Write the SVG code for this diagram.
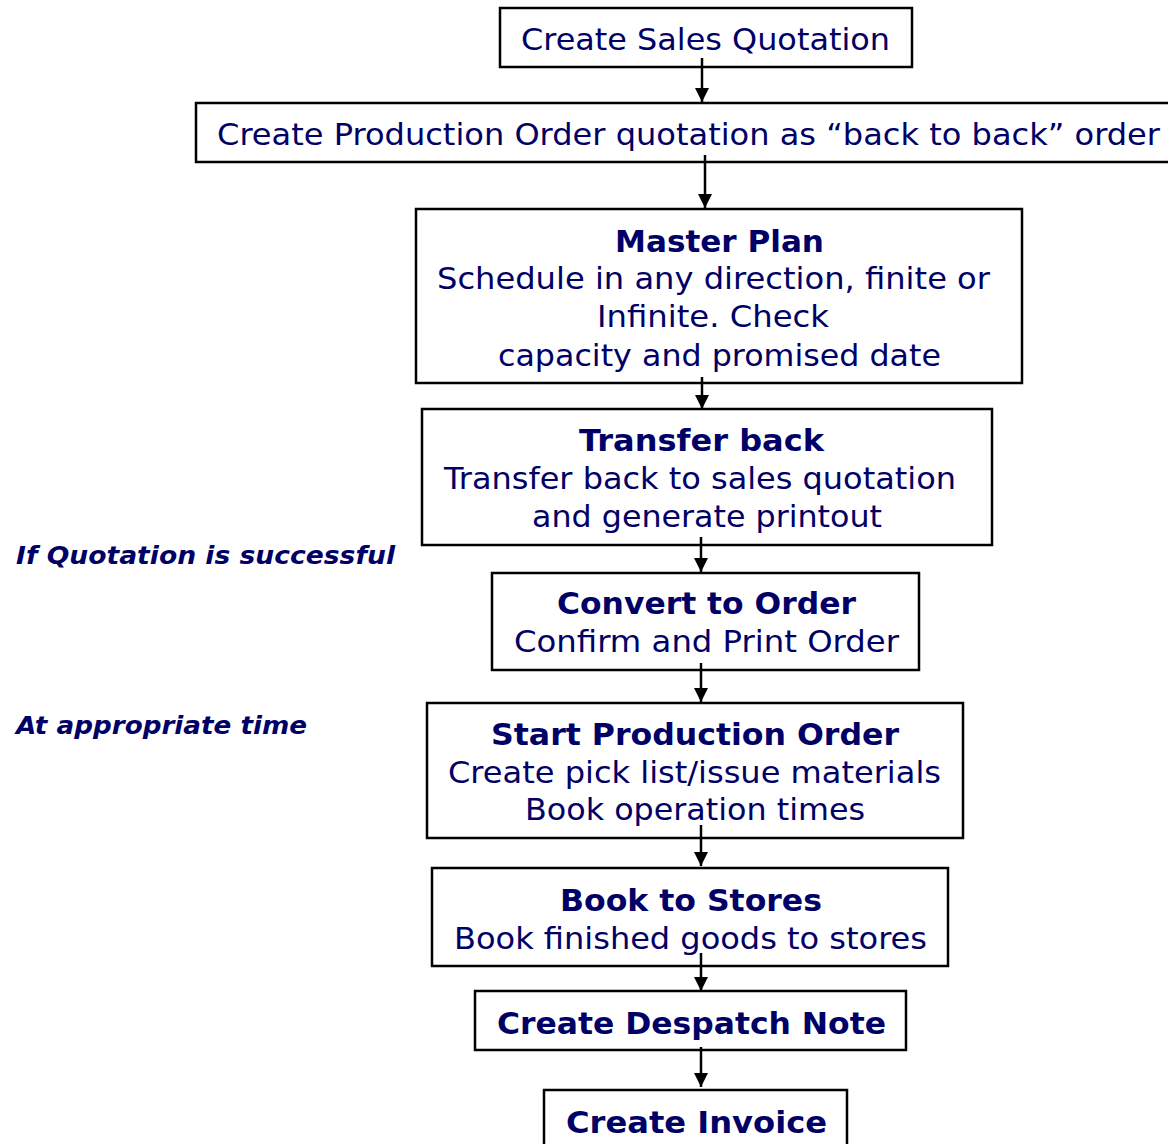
<svg xmlns="http://www.w3.org/2000/svg" width="1168" height="1144" viewBox="0 0 1168 1144">
<defs>
<marker id="ah" markerWidth="14" markerHeight="14" viewBox="0 0 14 14" refX="14" refY="7" orient="auto" markerUnits="userSpaceOnUse">
<path d="M0,0 L14,7 L0,14 Z" fill="#000"/>
</marker>
<style>
.box{fill:#fff;stroke:#000;stroke-width:2.5}
.t{font-family:"DejaVu Sans","Verdana",sans-serif;font-size:30px;fill:#000066;text-anchor:middle}
.b{font-weight:bold}
.lbl{font-family:"DejaVu Sans","Verdana",sans-serif;font-size:24px;font-weight:bold;font-style:italic;fill:#000066}
.c{stroke:#000;stroke-width:2.5;fill:none;marker-end:url(#ah)}
</style>
</defs>
<rect width="1168" height="1144" fill="#fff"/>
<g id="n1"><rect class="box" x="500" y="8" width="412" height="59"/><text class="t" x="705.5" y="50" textLength="369" lengthAdjust="spacingAndGlyphs">Create Sales Quotation</text></g>
<g id="n2"><rect class="box" x="196" y="103" width="980" height="59"/><text class="t" x="688.5" y="145" textLength="943" lengthAdjust="spacingAndGlyphs">Create Production Order quotation as “back to back” order</text></g>
<g id="n3"><rect class="box" x="416" y="209" width="606" height="174"/>
<text class="t b" x="719.5" y="252" textLength="209" lengthAdjust="spacingAndGlyphs">Master Plan</text>
<text class="t" x="713.5" y="289" textLength="553" lengthAdjust="spacingAndGlyphs">Schedule in any direction, finite or</text>
<text class="t" x="713" y="327" textLength="232" lengthAdjust="spacingAndGlyphs">Infinite. Check</text>
<text class="t" x="719.5" y="366" textLength="443" lengthAdjust="spacingAndGlyphs">capacity and promised date</text></g>
<g id="n4"><rect class="box" x="422" y="409" width="570" height="136"/>
<text class="t b" x="701.5" y="451" textLength="245" lengthAdjust="spacingAndGlyphs">Transfer back</text>
<text class="t" x="700" y="489" textLength="512" lengthAdjust="spacingAndGlyphs">Transfer back to sales quotation</text>
<text class="t" x="707" y="527" textLength="350" lengthAdjust="spacingAndGlyphs">and generate printout</text></g>
<g id="n5"><rect class="box" x="492" y="573" width="427" height="97"/>
<text class="t b" x="706.5" y="614" textLength="299" lengthAdjust="spacingAndGlyphs">Convert to Order</text>
<text class="t" x="706.5" y="652" textLength="385" lengthAdjust="spacingAndGlyphs">Confirm and Print Order</text></g>
<g id="n6"><rect class="box" x="427" y="703" width="536" height="135"/>
<text class="t b" x="695" y="745" textLength="408" lengthAdjust="spacingAndGlyphs">Start Production Order</text>
<text class="t" x="694.5" y="783" textLength="493" lengthAdjust="spacingAndGlyphs">Create pick list/issue materials</text>
<text class="t" x="695" y="820" textLength="340" lengthAdjust="spacingAndGlyphs">Book operation times</text></g>
<g id="n7"><rect class="box" x="432" y="868" width="516" height="98"/>
<text class="t b" x="691" y="911" textLength="262" lengthAdjust="spacingAndGlyphs">Book to Stores</text>
<text class="t" x="690.5" y="949" textLength="473" lengthAdjust="spacingAndGlyphs">Book finished goods to stores</text></g>
<g id="n8"><rect class="box" x="475" y="991" width="431" height="59"/>
<text class="t b" x="691.5" y="1034" textLength="389" lengthAdjust="spacingAndGlyphs">Create Despatch Note</text></g>
<g id="n9"><rect class="box" x="544" y="1090" width="303" height="70"/>
<text class="t b" x="696.5" y="1133" textLength="261" lengthAdjust="spacingAndGlyphs">Create Invoice</text></g>
<g id="labels">
<text class="lbl" x="16" y="564" textLength="379" lengthAdjust="spacingAndGlyphs">If Quotation is successful</text>
<text class="lbl" x="16" y="734" textLength="291" lengthAdjust="spacingAndGlyphs">At appropriate time</text>
</g>
<g id="connectors">
<line class="c" x1="702" y1="58" x2="702" y2="102"/>
<line class="c" x1="705" y1="155" x2="705" y2="208"/>
<line class="c" x1="702" y1="377" x2="702" y2="409"/>
<line class="c" x1="701" y1="537" x2="701" y2="572"/>
<line class="c" x1="701" y1="663" x2="701" y2="702"/>
<line class="c" x1="701" y1="825" x2="701" y2="866"/>
<line class="c" x1="701" y1="953" x2="701" y2="991"/>
<line class="c" x1="701" y1="1047" x2="701" y2="1087"/>
</g>
</svg>
